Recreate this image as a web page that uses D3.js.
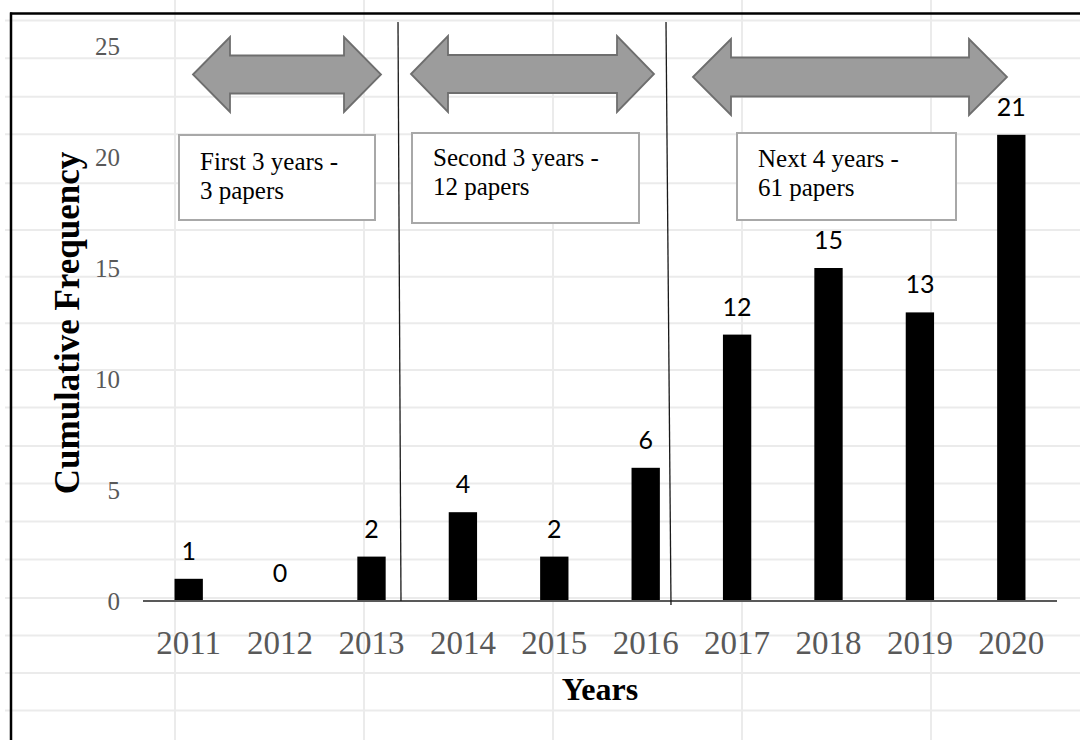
<!DOCTYPE html>
<html>
<head>
<meta charset="utf-8">
<script src="https://cdn.jsdelivr.net/npm/d3@7"></script>
<style>
  html, body { margin: 0; padding: 0; background: #ffffff; }
  svg { display: block; }
</style>
</head>
<body>
<svg id="chart" width="1080" height="740"></svg>
<script>
// ---------- data ----------
const years = ["2011", "2012", "2013", "2014", "2015", "2016", "2017", "2018", "2019", "2020"];
const counts = [1, 0, 2, 4, 2, 6, 12, 15, 13, 21];
const yTicks = [0, 5, 10, 15, 20, 25];
const periodLines1 = ["First 3 years -", "Second 3 years -", "Next 4 years -"];
const periodLines2 = ["3 papers", "12 papers", "61 papers"];
const xTitle = "Years";
const yTitle = "Cumulative Frequency";

// ---------- layout ----------
const W = 1080, H = 740;
const serif = "'Liberation Serif', 'Times New Roman', serif";
const sans = "Lato, 'Open Sans', 'Liberation Sans', sans-serif";
const svg = d3.select("#chart");

// spreadsheet background grid
const sheetRowsY = [20.5, 58.3, 96.7, 134.3, 183.3, 230, 276.7, 323.3, 370, 407.5, 446, 483.5, 521.5, 559.5, 598, 635.5, 673, 710.5];
const sheetColsX = [175, 364, 553, 742, 931];
const bg = svg.append("g");
bg.selectAll("line.r").data(sheetRowsY).join("line")
  .attr("x1", 5).attr("x2", W).attr("y1", d => d).attr("y2", d => d)
  .attr("stroke", "#ebebeb").attr("stroke-width", 2);
bg.selectAll("line.c").data(sheetColsX).join("line")
  .attr("x1", d => d).attr("x2", d => d).attr("y1", 0).attr("y2", H)
  .attr("stroke", "#ebebeb").attr("stroke-width", 2);

// chart frame (top + left visible)
svg.append("line").attr("x1", 10).attr("x2", W).attr("y1", 13.5).attr("y2", 13.5)
  .attr("stroke", "#000").attr("stroke-width", 2.5);
svg.append("line").attr("x1", 11).attr("x2", 11).attr("y1", 12.5).attr("y2", H)
  .attr("stroke", "#000").attr("stroke-width", 2.5);

// scales
const x = d3.scaleBand().domain(years).range([143, 1057]).paddingInner(0.69).paddingOuter(0.345);
const y = d3.scaleLinear().domain([0, 25]).range([601, 46]);

// y axis labels (no line)
const yAxis = d3.axisLeft(y).tickValues(yTicks).tickSize(0).tickPadding(0);
const gy = svg.append("g").attr("transform", "translate(120,0)").call(yAxis);
gy.select(".domain").remove();
gy.selectAll("text")
  .attr("font-family", serif).attr("font-size", 25).attr("fill", "#595959")
  .attr("dy", "0.34em").attr("x", 0);

// bars
svg.append("g").selectAll("rect").data(counts).join("rect")
  .attr("x", (d, i) => x(years[i]))
  .attr("y", d => y(d))
  .attr("width", x.bandwidth())
  .attr("height", d => y(0) - y(d))
  .attr("fill", "#000");

// x axis
const xAxis = d3.axisBottom(x).tickSize(0).tickPadding(0);
const gx = svg.append("g").attr("transform", `translate(0,${y(0)})`).call(xAxis);
gx.select(".domain").attr("stroke", "#595959").attr("stroke-width", 2.2)
  .attr("d", `M143,0H1057`);
gx.selectAll("text")
  .attr("font-family", serif).attr("font-size", 33).attr("fill", "#595959")
  .attr("y", 53).attr("dy", 0);

// value labels
svg.append("g").selectAll("text").data(counts).join("text")
  .attr("x", (d, i) => x(years[i]) + x.bandwidth() / 2)
  .attr("y", d => y(d) - 19)
  .attr("text-anchor", "middle")
  .attr("font-family", sans).attr("font-size", 25).attr("fill", "#000")
  .text(d => d);

// period separator lines
const sep = [[398, 22, 401, 601], [666, 22, 671, 605]];
svg.append("g").selectAll("line").data(sep).join("line")
  .attr("x1", d => d[0]).attr("y1", d => d[1]).attr("x2", d => d[2]).attr("y2", d => d[3])
  .attr("stroke", "#1a1a1a").attr("stroke-width", 1.3);

// double arrows
const arrows = [
  { x0: 193, x1: 381, yc: 74.5, hs: 19, hh: 37.5, hl: 37 },
  { x0: 411, x1: 654, yc: 74, hs: 19, hh: 38, hl: 37 },
  { x0: 693, x1: 1007, yc: 77, hs: 19.5, hh: 38, hl: 38 }
];
function arrowPath(a) {
  const p = d3.path();
  p.moveTo(a.x0, a.yc);
  p.lineTo(a.x0 + a.hl, a.yc - a.hh);
  p.lineTo(a.x0 + a.hl, a.yc - a.hs);
  p.lineTo(a.x1 - a.hl, a.yc - a.hs);
  p.lineTo(a.x1 - a.hl, a.yc - a.hh);
  p.lineTo(a.x1, a.yc);
  p.lineTo(a.x1 - a.hl, a.yc + a.hh);
  p.lineTo(a.x1 - a.hl, a.yc + a.hs);
  p.lineTo(a.x0 + a.hl, a.yc + a.hs);
  p.lineTo(a.x0 + a.hl, a.yc + a.hh);
  p.closePath();
  return p.toString();
}
svg.append("g").selectAll("path").data(arrows).join("path")
  .attr("d", arrowPath)
  .attr("fill", "#9c9c9c").attr("stroke", "#6e6e6e").attr("stroke-width", 1.8)
  .attr("stroke-linejoin", "miter");

// text boxes
const boxes = [
  { x0: 179, y0: 135, x1: 375, y1: 220, tx: 200, b1: 170, b2: 199 },
  { x0: 412, y0: 133, x1: 639, y1: 223, tx: 433, b1: 166, b2: 195 },
  { x0: 737, y0: 133, x1: 956, y1: 220, tx: 758, b1: 167, b2: 196 }
];
const gb = svg.append("g").selectAll("g").data(boxes).join("g");
gb.append("rect")
  .attr("x", d => d.x0).attr("y", d => d.y0)
  .attr("width", d => d.x1 - d.x0).attr("height", d => d.y1 - d.y0)
  .attr("fill", "#fff").attr("stroke", "#a8a8a8").attr("stroke-width", 2);
gb.append("text")
  .attr("x", d => d.tx).attr("y", d => d.b1)
  .attr("font-family", serif).attr("font-size", 25).attr("fill", "#000")
  .text((d, i) => periodLines1[i]);
gb.append("text")
  .attr("x", d => d.tx).attr("y", d => d.b2)
  .attr("font-family", serif).attr("font-size", 25).attr("fill", "#000")
  .text((d, i) => periodLines2[i]);

// axis titles
svg.append("text")
  .attr("x", 600).attr("y", 700)
  .attr("text-anchor", "middle")
  .attr("font-family", serif).attr("font-weight", "bold").attr("font-size", 32).attr("fill", "#000")
  .text(xTitle);
svg.append("text")
  .attr("transform", "translate(79,323) rotate(-90)")
  .attr("text-anchor", "middle")
  .attr("font-family", serif).attr("font-weight", "bold").attr("font-size", 35).attr("fill", "#000")
  .text(yTitle);
</script>
</body>
</html>
